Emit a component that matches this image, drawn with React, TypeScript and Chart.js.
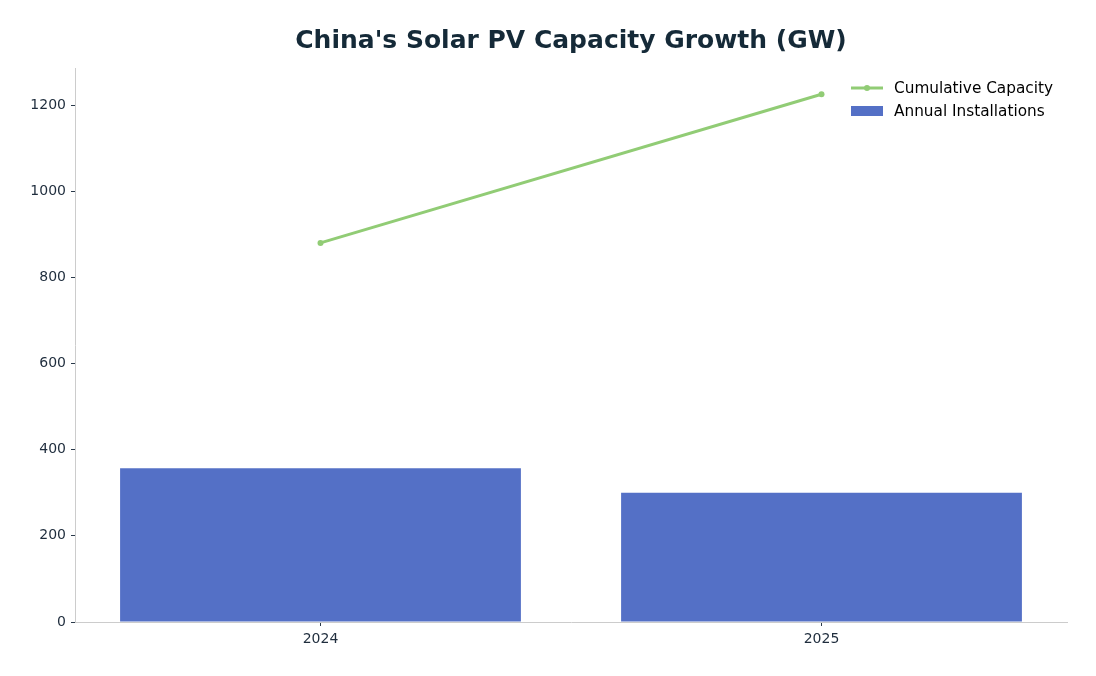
import React, { useEffect, useRef } from "react";
import { Chart, registerables } from "chart.js";

Chart.register(...registerables);

const TITLE = "China's Solar PV Capacity Growth (GW)";
const years = ["2024", "2025"];
const cumulativeCapacity = [880, 1225];
const annualInstallations = [357, 300];
const yTickValues = [0, 200, 400, 600, 800, 1000, 1200];

const FONT = "'DejaVu Sans', sans-serif";

const titlePlugin = {
  id: "customTitle",
  afterDraw(chart: any) {
    const { ctx, chartArea } = chart;
    ctx.save();
    ctx.font = `bold 25px ${FONT}`;
    ctx.fillStyle = "#152a38";
    ctx.textAlign = "center";
    ctx.textBaseline = "middle";
    ctx.fillText(TITLE, (chartArea.left + chartArea.right) / 2, 41.5);
    ctx.restore();
  },
};

const legendPlugin = {
  id: "customLegend",
  afterDraw(chart: any) {
    const { ctx } = chart;
    const ds = chart.data.datasets;
    ctx.save();
    ctx.font = `15.3px ${FONT}`;
    ctx.textBaseline = "middle";
    ctx.textAlign = "left";
    const x0 = 851;
    const x1 = 883;
    const line = ds[0];
    let y = 88;
    ctx.strokeStyle = line.borderColor;
    ctx.lineWidth = 3;
    ctx.beginPath();
    ctx.moveTo(x0, y);
    ctx.lineTo(x1, y);
    ctx.stroke();
    ctx.fillStyle = line.borderColor;
    ctx.beginPath();
    ctx.arc((x0 + x1) / 2, y, 3, 0, Math.PI * 2);
    ctx.fill();
    ctx.fillStyle = "#000000";
    ctx.fillText(line.label, 894, y + 1);
    const bar = ds[1];
    y = 111;
    ctx.fillStyle = bar.backgroundColor;
    ctx.fillRect(x0, y - 5, x1 - x0, 10);
    ctx.fillStyle = "#000000";
    ctx.fillText(bar.label, 894, y + 1);
    ctx.restore();
  },
};

export default function App() {
  const ref = useRef<HTMLCanvasElement>(null);
  useEffect(() => {
    document.body.style.margin = "0";
    const chart = new Chart(ref.current as HTMLCanvasElement, {
      data: {
        datasets: [
          {
            type: "line",
            label: "Cumulative Capacity",
            data: years.map((_, i) => ({ x: i, y: cumulativeCapacity[i] })),
            borderColor: "#91cc75",
            backgroundColor: "#91cc75",
            borderWidth: 3,
            pointRadius: 3,
            pointBackgroundColor: "#91cc75",
            pointBorderWidth: 0,
            order: 0,
          },
          {
            type: "bar",
            label: "Annual Installations",
            data: years.map((_, i) => ({ x: i, y: annualInstallations[i] })),
            backgroundColor: "#5470c6",
            borderWidth: 0,
            categoryPercentage: 0.8,
            barPercentage: 1.0,
            order: 1,
          },
        ],
      } as any,
      options: {
        animation: false,
        responsive: false,
        maintainAspectRatio: false,
        layout: { padding: { top: 68, right: 29, left: 0, bottom: 0 } },
        plugins: {
          legend: { display: false },
          title: { display: false },
          tooltip: { enabled: false },
        },
        scales: {
          x: {
            type: "linear",
            min: -0.49,
            max: 1.49,
            offset: false,
            grid: {
              display: true,
              drawOnChartArea: false,
              tickLength: 4,
              color: "#2a3a4a",
              offset: false,
            },
            border: { display: true, color: "#cccccc", width: 1 },
            ticks: {
              color: "#1f2d3d",
              font: { family: FONT, size: 14 },
              padding: 5,
              callback: (v: any) => years[v] ?? "",
            },
            afterBuildTicks(scale: any) {
              scale.ticks = years.map((_, i) => ({ value: i }));
            },
            afterFit(scale: any) {
              scale.height = 54;
            },
          },
          y: {
            type: "linear",
            min: 0,
            max: 1286,
            grid: {
              display: true,
              drawOnChartArea: false,
              tickLength: 4,
              color: "#2a3a4a",
              offset: false,
            },
            border: { display: true, color: "#cccccc", width: 1 },
            ticks: {
              color: "#1f2d3d",
              font: { family: FONT, size: 14 },
              padding: 5,
              callback: (v: any) => String(v),
            },
            afterBuildTicks(scale: any) {
              scale.ticks = yTickValues.map((v) => ({ value: v }));
            },
            afterFit(scale: any) {
              scale.width = 75;
            },
          },
        },
      } as any,
      plugins: [titlePlugin, legendPlugin],
    });
    return () => chart.destroy();
  }, []);
  return (
    <div style={{ position: "absolute", left: 0, top: 0, width: 1096, height: 676, background: "#fff" }}>
      <canvas ref={ref} width={1096} height={676} style={{ width: 1096, height: 676 }} />
    </div>
  );
}
